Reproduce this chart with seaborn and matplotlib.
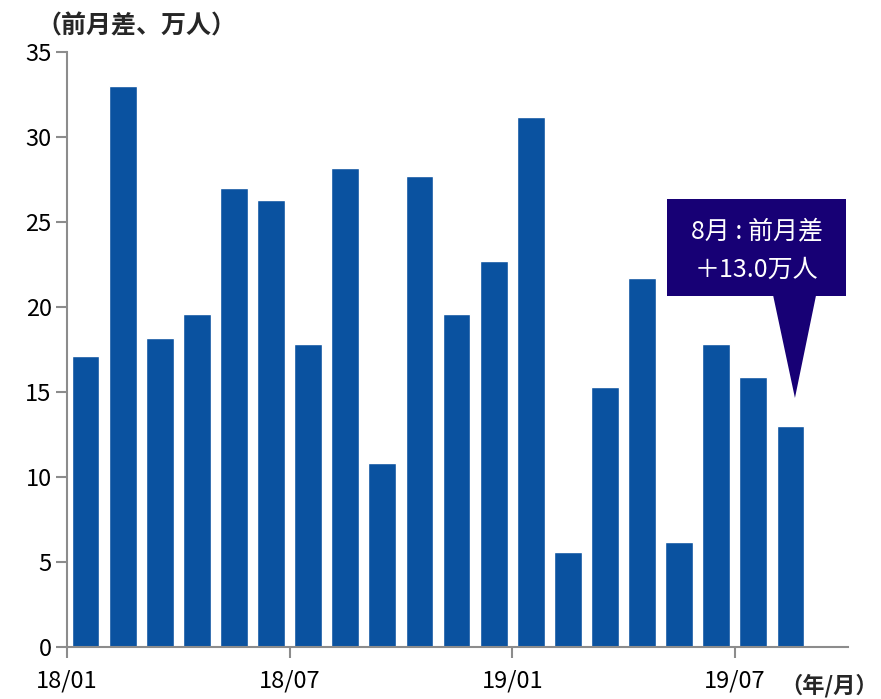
import matplotlib
matplotlib.use("Agg")
import matplotlib.pyplot as plt
import seaborn as sns
import pandas as pd
from matplotlib.patches import Rectangle, Polygon

months = ["18/01","18/02","18/03","18/04","18/05","18/06","18/07","18/08","18/09","18/10",
          "18/11","18/12","19/01","19/02","19/03","19/04","19/05","19/06","19/07","19/08"]
values = [17.1, 33.0, 18.2, 19.6, 27.0, 26.3, 17.8, 28.2, 10.8, 27.7,
          19.6, 22.7, 31.2, 5.6, 15.3, 21.7, 6.2, 17.8, 15.9, 13.0]
tick_labels = ["18/01", "18/07", "19/01", "19/07"]
y_ticks = [0, 5, 10, 15, 20, 25, 30, 35]

sns.set_theme(style="white")
plt.rcParams['font.family'] = ['Noto Sans CJK JP', 'DejaVu Sans']

df = pd.DataFrame({"month": months, "value": values})

fig = plt.figure(figsize=(8.81, 6.99), dpi=100)
ax = fig.add_axes([67/881, 1-647/699, (848-67)/881, (647-52)/699])

sns.barplot(data=df, x="month", y="value", order=months, color="#0A52A0",
            saturation=1, width=0.75, ax=ax)

ax.set_xlim(-0.5, 20.55)
ax.set_ylim(0, 35)
ax.set_yticks(y_ticks)
ax.set_yticklabels([str(t) for t in y_ticks], fontsize=17)
tick_pos = [months.index(t) - 0.5 for t in tick_labels]
ax.set_xticks(tick_pos)
ax.set_xticklabels(tick_labels, fontsize=17)
ax.set_xlabel("")
ax.set_ylabel("")
for s in ["top", "right"]:
    ax.spines[s].set_visible(False)
for s in ["left", "bottom"]:
    ax.spines[s].set_color("#8c8c8c")
    ax.spines[s].set_linewidth(1.5)
ax.tick_params(axis="both", which="both", direction="out", length=8, width=1.5,
               color="#8c8c8c", colors="black", bottom=True, left=True)
ax.tick_params(axis="x", pad=8)
ax.tick_params(axis="y", pad=3)

fig.text(36/881, 1-26/699, "（前月差、万人）", fontsize=18, fontweight="bold",
         ha="left", va="center")
fig.text(878/881, 1-686/699, "（年/月）", fontsize=16, fontweight="bold",
         ha="right", va="center")

# callout
last = len(values) - 1
box_color = "#170075"
ax.add_patch(Rectangle((15.67, 20.65), 20.5 - 15.67, 26.35 - 20.65,
                       facecolor=box_color, edgecolor="none", zorder=5, clip_on=False))
ax.add_patch(Polygon([(last - 0.47, 20.7), (last + 0.69, 20.7), (last + 0.12, 14.65)],
                     closed=True, facecolor=box_color, edgecolor="none", zorder=5, clip_on=False))
cx = (15.67 + 20.5) / 2
ax.text(cx, 24.45, "8月 : 前月差", color="white", fontsize=18, ha="center", va="center", zorder=6)
ax.text(cx, 22.2, "＋13.0万人", color="white", fontsize=18, ha="center", va="center", zorder=6)

fig.savefig("out.png", dpi=100)
